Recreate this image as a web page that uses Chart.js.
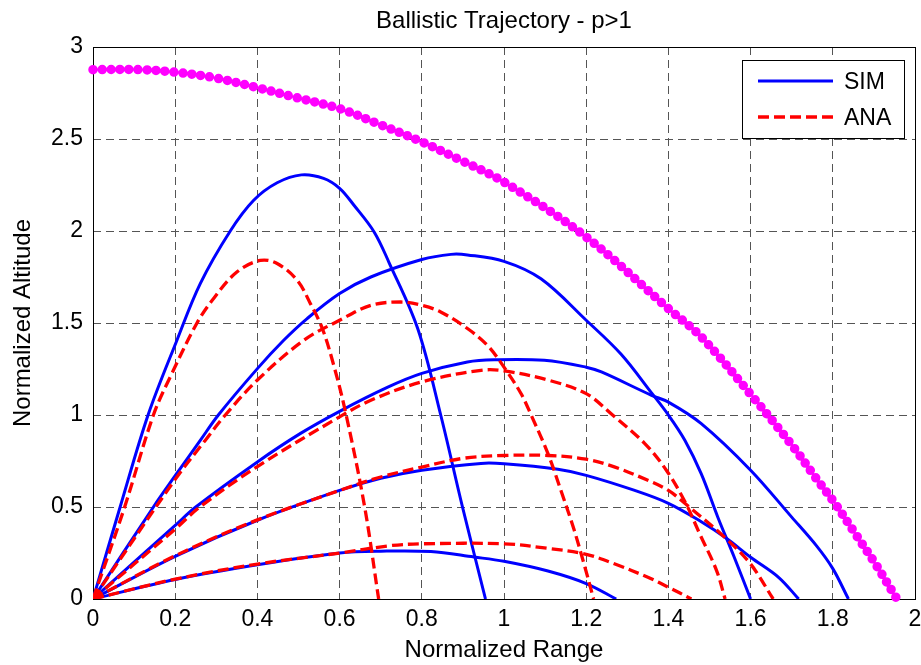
<!DOCTYPE html>
<html>
<head>
<meta charset="utf-8">
<title>Ballistic Trajectory - p>1</title>
<script src="https://cdn.jsdelivr.net/npm/chart.js@4.4.1/dist/chart.umd.min.js"></script>
<style>
  html, body { margin: 0; padding: 0; background: #fff; }
  #wrap { width: 921px; height: 665px; }
</style>
</head>
<body>
<div id="wrap"><canvas id="canvas" width="921" height="665"></canvas></div>
<script>
const xTicks = [0, 0.2, 0.4, 0.6, 0.8, 1, 1.2, 1.4, 1.6, 1.8, 2]
const yTicks = [0, 0.5, 1, 1.5, 2, 2.5, 3]

// simulated trajectories, [range, altitude]
const sim1 = [[0, 0], [0.066, 0.5], [0.134, 1.0], [0.204, 1.405], [0.261, 1.714], [0.334, 2.0], [0.391, 2.167], [0.448, 2.262], [0.507, 2.305], [0.561, 2.286], [0.6, 2.232], [0.635, 2.14], [0.684, 1.995], [0.72, 1.83], [0.79, 1.47], [0.846, 1.0], [0.899, 0.5], [0.955, 0]]
const sim2 = [[0, 0], [0.147, 0.5], [0.2, 0.67], [0.261, 0.862], [0.305, 1.0], [0.4, 1.252], [0.464, 1.406], [0.521, 1.524], [0.6, 1.66], [0.676, 1.75], [0.8, 1.845], [0.871, 1.873], [0.911, 1.87], [1.0, 1.835], [1.09, 1.74], [1.2, 1.515], [1.285, 1.33], [1.359, 1.12], [1.4, 1.0], [1.44, 0.863], [1.48, 0.68], [1.52, 0.446], [1.56, 0.228], [1.6, 0]]
const sim3 = [[0, 0], [0.2, 0.4], [0.25, 0.5], [0.4, 0.745], [0.505, 0.9], [0.6, 1.02], [0.716, 1.15], [0.8, 1.226], [0.911, 1.288], [0.976, 1.3], [1.098, 1.297], [1.2, 1.26], [1.237, 1.234], [1.359, 1.107], [1.4, 1.07], [1.48, 0.953], [1.6, 0.7], [1.7, 0.445], [1.76, 0.29], [1.8, 0.165], [1.838, 0]]
const sim4 = [[0, 0], [0.2, 0.232], [0.4, 0.428], [0.6, 0.59], [0.7, 0.656], [0.8, 0.7], [0.944, 0.737], [1.0, 0.735], [1.131, 0.705], [1.2, 0.672], [1.318, 0.59], [1.4, 0.52], [1.48, 0.42], [1.541, 0.33], [1.6, 0.227], [1.668, 0.118], [1.717, 0]]
const sim5 = [[0, 0], [0.2, 0.106], [0.4, 0.186], [0.6, 0.25], [0.7, 0.26], [0.822, 0.258], [0.927, 0.228], [1.0, 0.205], [1.107, 0.152], [1.2, 0.084], [1.273, 0]]

// analytic trajectories
const ana1 = [[0, 0], [0.077, 0.5], [0.147, 1.0], [0.188, 1.207], [0.253, 1.5], [0.293, 1.632], [0.35, 1.777], [0.407, 1.84], [0.448, 1.823], [0.497, 1.732], [0.529, 1.605], [0.558, 1.47], [0.587, 1.26], [0.616, 1.0], [0.661, 0.5], [0.695, 0]]
const ana2 = [[0, 0], [0.2, 0.65], [0.273, 0.862], [0.322, 1.0], [0.4, 1.19], [0.513, 1.406], [0.6, 1.515], [0.676, 1.596], [0.749, 1.614], [0.8, 1.596], [0.846, 1.56], [0.911, 1.47], [0.96, 1.378], [1.0, 1.26], [1.041, 1.118], [1.066, 1.0], [1.107, 0.79], [1.14, 0.58], [1.17, 0.38], [1.196, 0.18], [1.218, 0]]
const ana3 = [[0, 0], [0.2, 0.38], [0.26, 0.5], [0.4, 0.72], [0.6, 0.99], [0.676, 1.08], [0.8, 1.18], [0.944, 1.243], [1.0, 1.24], [1.107, 1.19], [1.2, 1.116], [1.26, 1.008], [1.342, 0.846], [1.395, 0.7], [1.44, 0.53], [1.477, 0.35], [1.517, 0.156], [1.538, 0]]
const ana4 = [[0, 0], [0.2, 0.235], [0.4, 0.43], [0.6, 0.59], [0.7, 0.663], [0.8, 0.717], [0.902, 0.765], [1.0, 0.78], [1.107, 0.78], [1.2, 0.76], [1.27, 0.717], [1.35, 0.645], [1.4, 0.59], [1.44, 0.52], [1.537, 0.335], [1.6, 0.19], [1.655, 0]]
const ana5 = [[0, 0], [0.2, 0.108], [0.4, 0.19], [0.6, 0.25], [0.724, 0.29], [0.8, 0.3], [1.0, 0.3], [1.107, 0.275], [1.2, 0.243], [1.27, 0.19], [1.35, 0.118], [1.4, 0.064], [1.456, 0]]

// dotted magenta envelope
const envelope = [[0, 2.877], [0.115, 2.877], [0.196, 2.864], [0.293, 2.834], [0.4, 2.779], [0.489, 2.728], [0.6, 2.665], [0.692, 2.584], [0.8, 2.484], [0.895, 2.384], [1.0, 2.266], [1.2, 1.967], [1.4, 1.578], [1.48, 1.424], [1.602, 1.107], [1.704, 0.826], [1.757, 0.663], [1.805, 0.52], [1.854, 0.357], [1.903, 0.193], [1.956, 0]]

const FONT = "'Liberation Sans', Arial, Helvetica, sans-serif"
const simStyle = { label: "SIM", color: "#0000ff", width: 3, dash: [] }
const anaStyle = { label: "ANA", color: "#ff0000", width: 3.3, dash: [11, 5] }
const gridColor = "#555"

const toPoints = arr => arr.map(([x, y]) => ({ x, y }))
const fmt = v => String(Math.round(v * 10) / 10)

function curve(points, style, order) {
  return {
    label: style.label,
    data: toPoints(points),
    borderColor: style.color,
    borderWidth: style.width,
    borderDash: style.dash,
    pointRadius: 0,
    tension: 0.35,
    fill: false,
    order: order
  }
}

const datasets = []
for (const c of [sim1, sim2, sim3, sim4, sim5]) datasets.push(curve(c, simStyle, 2))
for (const c of [ana1, ana2, ana3, ana4, ana5]) datasets.push(curve(c, anaStyle, 1))
datasets.push({
  label: "",
  data: toPoints(envelope),
  borderColor: "#ff00ff",
  borderWidth: 9.5,
  borderDash: [0, 9],
  borderCapStyle: "round",
  pointRadius: 0,
  tension: 0.35,
  clip: 10,
  order: 3
})

// black box round the plot area
const frame = {
  id: "frame",
  beforeDatasetsDraw(chart) {
    const { ctx, chartArea: a } = chart
    ctx.save()
    ctx.strokeStyle = "#000"
    ctx.lineWidth = 1
    ctx.strokeRect(Math.round(a.left) + 0.5, Math.round(a.top) + 0.5,
      Math.round(a.right) - Math.round(a.left), Math.round(a.bottom) - Math.round(a.top))
    ctx.restore()
  }
}

// MATLAB style legend box in the upper right corner
const legendBox = {
  id: "legendBox",
  afterDraw(chart) {
    const { ctx, chartArea } = chart
    const w = 162, h = 78
    const left = Math.round(chartArea.right - 11 - w)
    const top = Math.round(chartArea.top + 13)
    ctx.save()
    ctx.fillStyle = "#fff"
    ctx.fillRect(left, top, w, h)
    ctx.strokeStyle = "#000"
    ctx.lineWidth = 1
    ctx.strokeRect(left + 0.5, top + 0.5, w, h)
    ;[simStyle, anaStyle].forEach((e, i) => {
      const y = top + 21 + i * 36
      ctx.beginPath()
      ctx.strokeStyle = e.color
      ctx.lineWidth = e.width
      ctx.setLineDash(e.dash)
      ctx.moveTo(left + 16, y)
      ctx.lineTo(left + 91, y)
      ctx.stroke()
      ctx.setLineDash([])
      ctx.fillStyle = "#000"
      ctx.font = "23px " + FONT
      ctx.textBaseline = "middle"
      ctx.textAlign = "left"
      ctx.fillText(e.label, left + 102, y + 2)
    })
    ctx.restore()
  }
}

Chart.defaults.font.family = FONT
Chart.defaults.color = "#000"

new Chart(document.getElementById("canvas"), {
  type: "line",
  data: { datasets },
  plugins: [frame, legendBox],
  options: {
    responsive: false,
    animation: false,
    devicePixelRatio: 1,
    layout: { padding: { left: 0, right: 6, top: 0, bottom: 0 } },
    plugins: {
      legend: { display: false },
      tooltip: { enabled: false },
      title: {
        display: true,
        text: "Ballistic Trajectory - p>1",
        color: "#000",
        fullSize: false,
        font: { size: 24, weight: "normal" },
        padding: { top: 6.5, bottom: 11.7 }
      }
    },
    scales: {
      x: {
        type: "linear",
        min: 0,
        max: 2,
        afterBuildTicks: s => { s.ticks = xTicks.map(value => ({ value })) },
        afterFit: s => { s.height = 66; s.paddingRight = 0 },
        grid: { color: gridColor, lineWidth: 1, drawTicks: false },
        border: { display: false, dash: [8, 5] },
        ticks: { color: "#000", font: { size: 23 }, padding: 7, maxRotation: 0, autoSkip: false, callback: v => fmt(v) },
        title: { display: true, text: "Normalized Range", color: "#000", font: { size: 24 }, padding: { top: 0, bottom: 0 } }
      },
      y: {
        type: "linear",
        min: 0,
        max: 3,
        afterBuildTicks: s => { s.ticks = yTicks.map(value => ({ value })) },
        afterFit: s => { s.width = 93 },
        grid: { color: gridColor, lineWidth: 1, drawTicks: false },
        border: { display: false, dash: [8, 5] },
        ticks: { color: "#000", font: { size: 23 }, padding: 10, autoSkip: false, callback: v => fmt(v) },
        title: { display: true, text: "Normalized Altitude", color: "#000", font: { size: 24 }, padding: { top: 9, bottom: 0 } }
      }
    }
  }
})
</script>
</body>
</html>
